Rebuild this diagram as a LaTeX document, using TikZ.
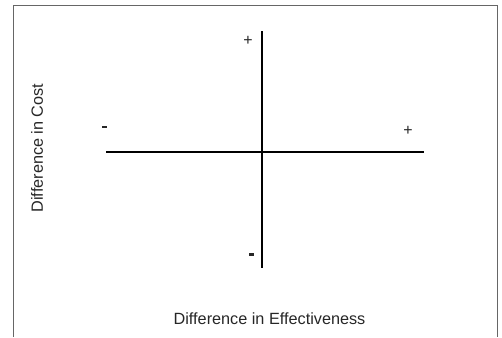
\documentclass[tikz,border=0pt]{standalone}
\usepackage{fontspec}
\setmainfont{Liberation Sans}
\begin{document}
\begin{tikzpicture}[x=1bp,y=-1bp,
  axis/.style={line width=2.9bp,black},
  frame/.style={line width=1.5bp,black!60},
  sign/.style={font=\fontsize{16}{16}\selectfont,inner sep=0pt,text=black!85},
  lbl/.style={font=\fontsize{16.3}{18}\selectfont,text=black!85,inner sep=0pt}]
\useasboundingbox (0,0) rectangle (502,337);
\coordinate (fbl) at (13.5,337);
\coordinate (ftl) at (13.5,5.5);
\coordinate (ftr) at (497.5,5.5);
\coordinate (fbr) at (497.5,337);
\draw[frame] (fbl) -- (ftl) -- (ftr) -- (fbr);
\coordinate (vt) at (262,31);
\coordinate (vb) at (262,268);
\coordinate (hl) at (106,152);
\coordinate (hr) at (424,152);
\draw[axis] (vt) -- (vb);
\draw[axis] (hl) -- (hr);
\node[sign] (ptop) at (248,40.5) {+};
\node[sign] (pright) at (408,130.5) {+};
\node[inner sep=0pt,fill=black!85,minimum width=5bp,minimum height=2.2bp] (mleft) at (104,127) {};
\node[inner sep=0pt,fill=black!85,minimum width=5bp,minimum height=2.2bp] (mbot) at (251,254.5) {};
\node[lbl,rotate=90] (ylab) at (37,148) {Difference in Cost};
\node[lbl] (xlab) at (269.5,319) {Difference in Effectiveness};
\end{tikzpicture}
\end{document}
